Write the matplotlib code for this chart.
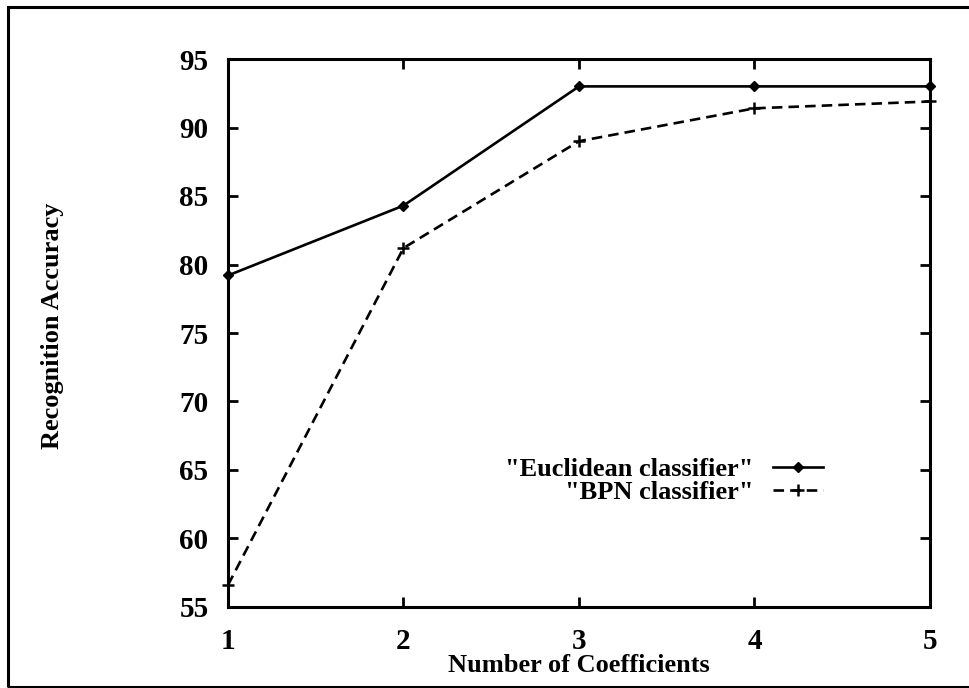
import matplotlib
matplotlib.use("Agg")
import matplotlib.pyplot as plt
from matplotlib.patches import Rectangle

plt.rcParams['font.family'] = ['Liberation Serif', 'DejaVu Serif']
plt.rcParams['font.weight'] = 'bold'

coefficients = [1, 2, 3, 4, 5]
euclidean = [79.2, 84.3, 93.0, 93.0, 93.0]
bpn = [56.6, 81.2, 89.0, 91.4, 91.9]
x_ticks = [1, 2, 3, 4, 5]
y_ticks = [55, 60, 65, 70, 75, 80, 85, 90, 95]
labels = ['"Euclidean classifier"', '"BPN classifier"']

W, H = 970, 688
fig = plt.figure(figsize=(W / 100, H / 100), dpi=100)
ax = fig.add_axes([228 / W, 1 - 607 / H, (930 - 228) / W, (607 - 59) / H])

ax.plot(coefficients, euclidean, color='black', lw=1.9, marker='D', ms=5.5,
        mfc='black', mec='black', label=labels[0], clip_on=False, zorder=3)
ax.plot(coefficients, bpn, color='black', lw=1.9, marker='+', ms=9, mew=1.8,
        dashes=(4.0, 2.3), label=labels[1], clip_on=False, zorder=3)

ax.set_xlim(1, 5)
ax.set_ylim(55, 95)
ax.set_xticks(x_ticks)
ax.set_yticks(y_ticks)
ax.tick_params(direction='in', length=7, width=2, top=True, right=True,
               labelsize=21, pad=14)
ax.tick_params(axis='x', pad=15)
for s in ax.spines.values():
    s.set_linewidth(2.2)

ax.set_xlabel('Number of Coefficients', fontsize=19, fontweight='bold')
ax.xaxis.set_label_coords(0.5, (607 - 666) / 548)
ax.xaxis.label.set_va('center')
ax.set_ylabel('Recognition Accuracy', fontsize=19, fontweight='bold')
ax.yaxis.set_label_coords((52 - 228) / 702, (607 - 326) / 548)
ax.yaxis.label.set_va('center')

leg = ax.legend(loc='center right', bbox_to_anchor=(823 / W, 1 - 481 / H),
                bbox_transform=fig.transFigure, frameon=False, markerfirst=False,
                fontsize=19, handlelength=1.9, handletextpad=0.75,
                labelspacing=0.0, borderpad=0, borderaxespad=0)
for col in leg._legend_handle_box.get_children():
    col.align = 'right'

fig.patches.append(Rectangle((8 / W, 1 / H), 1.05, 1 - 8 / H, transform=fig.transFigure,
                             fill=False, lw=2.2, ec='black'))

fig.savefig('out.png', dpi=100, facecolor='white')
